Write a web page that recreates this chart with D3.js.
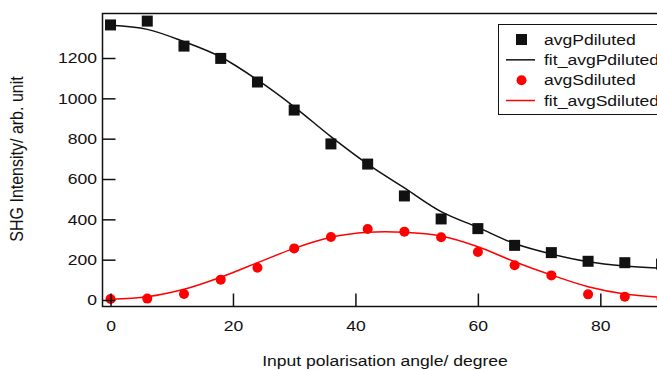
<!DOCTYPE html>
<html>
<head>
<meta charset="utf-8">
<script src="https://cdn.jsdelivr.net/npm/d3@7"></script>
<style>
  body { margin: 0; background: #fff; }
  text { font-family: "Liberation Sans", Arial, sans-serif; fill: #111; }
</style>
</head>
<body>
<div id="chart"></div>
<script>
// measured points, 6 degree steps
var angles = [0, 6, 12, 18, 24, 30, 36, 42, 48, 54, 60, 66, 72, 78, 84, 90];
var avgP = [1364, 1383, 1259, 1198, 1081, 942, 774, 674, 516, 402, 354, 271, 235, 192, 185, 178];
var avgS = [5, 7, 30, 101, 160, 256, 312, 352, 339, 311, 238, 172, 122, 28, 16, 5];

// fit curves
var fitAngles = [0, 6, 12, 18, 24, 30, 36, 42, 48, 54, 60, 66, 72, 78, 84, 90];
var fitP = [1362, 1342, 1281, 1205, 1091, 958, 810, 674, 556, 438, 360, 280, 228, 190, 169, 158];
var fitS = [4, 16, 53, 113, 185, 256, 311, 336, 336, 317, 264, 190, 124, 66, 30, 13];

var xTicks = [0, 20, 40, 60, 80];
var yTicks = [0, 200, 400, 600, 800, 1000, 1200];

var legendItems = ["avgPdiluted", "fit_avgPdiluted", "avgSdiluted", "fit_avgSdiluted"];

var width = 657, height = 370;
var pLeft = 102.5, pTop = 13.5, pRight = 664, pBottom = 306.5;
var stretch = 1.17; // text in the original is drawn wide

var svg = d3.select("#chart").append("svg")
  .attr("width", width)
  .attr("height", height);

var x = d3.scaleLinear().domain([-1.31, 90.4]).range([pLeft, pRight]);
var y = d3.scaleLinear().domain([-32.2, 1420.7]).range([pBottom, pTop]);

svg.append("defs").append("clipPath").attr("id", "clip")
  .append("rect")
  .attr("x", pLeft).attr("y", pTop)
  .attr("width", pRight - pLeft).attr("height", pBottom - pTop);

var plot = svg.append("g").attr("clip-path", "url(#clip)");

var line = d3.line()
  .x(function(d) { return x(d[0]); })
  .y(function(d) { return y(d[1]); })
  .curve(d3.curveCatmullRom);

plot.append("path")
  .datum(d3.zip(fitAngles, fitP))
  .attr("d", line)
  .attr("fill", "none")
  .attr("stroke", "#111")
  .attr("stroke-width", 1.5);

plot.append("path")
  .datum(d3.zip(fitAngles, fitS))
  .attr("d", line)
  .attr("fill", "none")
  .attr("stroke", "#ff0000")
  .attr("stroke-width", 1.5);

plot.selectAll("rect.p")
  .data(d3.zip(angles, avgP))
  .enter().append("rect")
  .attr("class", "p")
  .attr("x", function(d) { return x(d[0]) - 5.5; })
  .attr("y", function(d) { return y(d[1]) - 5.5; })
  .attr("width", 11)
  .attr("height", 11)
  .attr("fill", "#111");

plot.selectAll("circle.s")
  .data(d3.zip(angles, avgS))
  .enter().append("circle")
  .attr("class", "s")
  .attr("cx", function(d) { return x(d[0]); })
  .attr("cy", function(d) { return y(d[1]); })
  .attr("r", 5)
  .attr("fill", "#ff0000");

// axes, ticks drawn inward like the original
var xAxis = svg.append("g")
  .attr("transform", "translate(0," + pBottom + ")")
  .call(d3.axisBottom(x).tickValues(xTicks).tickFormat(d3.format("d"))
    .tickSizeInner(-13).tickSizeOuter(0).tickPadding(13.5));
var yAxis = svg.append("g")
  .attr("transform", "translate(" + pLeft + ",0)")
  .call(d3.axisLeft(y).tickValues(yTicks).tickFormat(d3.format("d"))
    .tickSizeInner(-13).tickSizeOuter(0).tickPadding(5.5));

[xAxis, yAxis].forEach(function(a) {
  a.select(".domain").remove();
  a.selectAll(".tick line").attr("stroke", "#111").attr("stroke-width", 1.5);
  a.selectAll(".tick text")
    .attr("font-size", 15)
    .attr("fill", "#111")
    .attr("x", function() { return (+d3.select(this).attr("x") || 0) / stretch; })
    .attr("transform", "scale(" + stretch + ",1)");
});

svg.append("rect")
  .attr("x", pLeft).attr("y", pTop)
  .attr("width", pRight - pLeft).attr("height", pBottom - pTop)
  .attr("fill", "none")
  .attr("stroke", "#111")
  .attr("stroke-width", 1.5);

svg.append("text")
  .attr("transform", "translate(385,366) scale(" + stretch + ",1)")
  .attr("text-anchor", "middle")
  .attr("font-size", 15)
  .text("Input polarisation angle/ degree");

svg.append("text")
  .attr("transform", "translate(23,159) rotate(-90) scale(1," + stretch + ")")
  .attr("text-anchor", "middle")
  .attr("font-size", 16)
  .text("SHG Intensity/ arb. unit");

// legend
var legend = svg.append("g");
legend.append("rect")
  .attr("x", 498.5).attr("y", 24.5)
  .attr("width", 200).attr("height", 90)
  .attr("fill", "#fff")
  .attr("stroke", "#111")
  .attr("stroke-width", 1);

var rowY = d3.scalePoint().domain(legendItems).range([39.5, 100.5]);

legendItems.forEach(function(name, i) {
  var cy = rowY(name);
  var col = i < 2 ? "#111" : "#ff0000";
  if (i == 0) {
    legend.append("rect").attr("x", 516).attr("y", cy - 5.5).attr("width", 11).attr("height", 11).attr("fill", col);
  } else if (i == 2) {
    legend.append("circle").attr("cx", 521.5).attr("cy", cy).attr("r", 5).attr("fill", col);
  } else {
    legend.append("line").attr("x1", 506).attr("x2", 535).attr("y1", cy).attr("y2", cy)
      .attr("stroke", col).attr("stroke-width", 1.5);
  }
  legend.append("text")
    .attr("transform", "translate(544," + cy + ") scale(" + stretch + ",1)")
    .attr("dy", "0.35em")
    .attr("font-size", 15)
    .text(name);
});
</script>
</body>
</html>
